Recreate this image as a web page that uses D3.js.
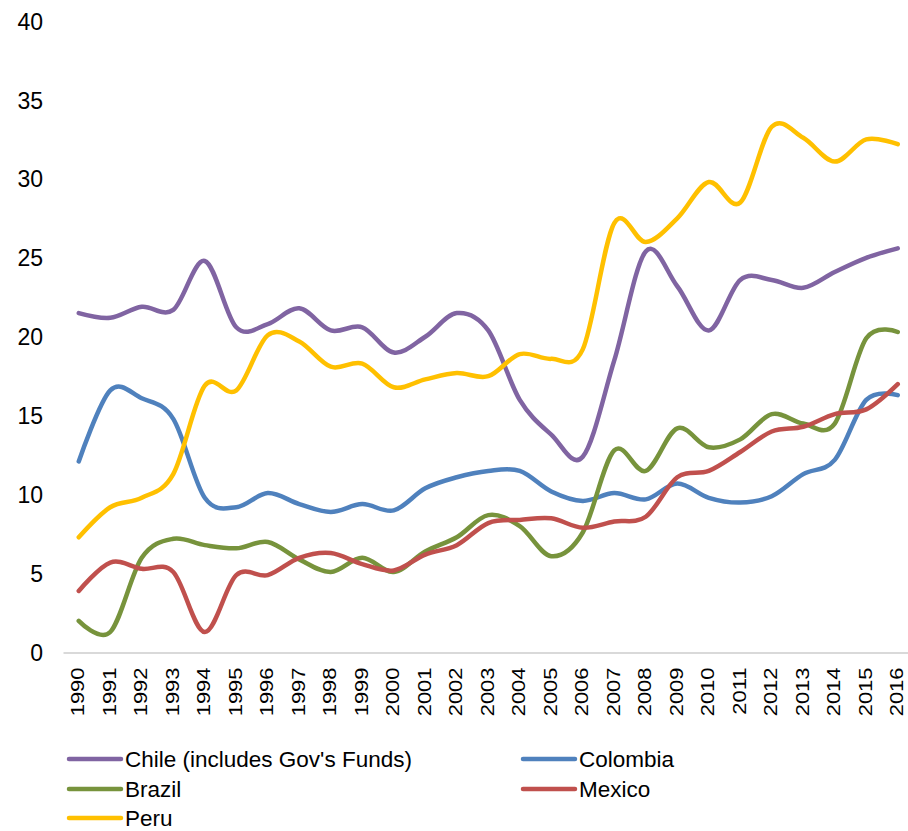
<!DOCTYPE html>
<html>
<head>
<meta charset="utf-8">
<script src="https://cdn.jsdelivr.net/npm/d3@7/dist/d3.min.js"></script>
<style>
  html, body { margin: 0; padding: 0; background: #fff; }
  svg { display: block; }
  text { font-family: Arial, "Liberation Sans", sans-serif; fill: #000; }
</style>
</head>
<body>
<svg id="chart" width="908" height="831"></svg>
<script>
const years = ["1990","1991","1992","1993","1994","1995","1996","1997","1998","1999","2000","2001","2002","2003","2004","2005","2006","2007","2008","2009","2010","2011","2012","2013","2014","2015","2016"];
const yTicks = [0, 5, 10, 15, 20, 25, 30, 35, 40];

const chile    = [21.5, 21.2, 21.9, 21.7, 24.8, 20.6, 20.8, 21.8, 20.4, 20.6, 19.0, 20.0, 21.5, 20.4, 16.0, 13.8, 12.4, 18.5, 25.4, 23.2, 20.4, 23.6, 23.6, 23.1, 24.1, 25.0, 25.6];
const colombia = [12.1, 16.6, 16.1, 14.8, 9.8, 9.2, 10.1, 9.4, 8.9, 9.4, 9.0, 10.4, 11.1, 11.5, 11.5, 10.2, 9.6, 10.1, 9.7, 10.7, 9.8, 9.5, 9.9, 11.3, 12.2, 16.0, 16.3];
const brazil   = [2.0, 1.3, 6.0, 7.2, 6.8, 6.6, 7.0, 5.9, 5.1, 6.0, 5.1, 6.4, 7.3, 8.7, 8.0, 6.1, 7.6, 12.8, 11.5, 14.2, 13.0, 13.5, 15.1, 14.5, 14.5, 19.9, 20.3];
const mexico   = [3.9, 5.7, 5.3, 5.1, 1.3, 4.9, 4.9, 6.0, 6.3, 5.6, 5.2, 6.2, 6.8, 8.2, 8.4, 8.5, 7.9, 8.3, 8.6, 11.1, 11.5, 12.7, 14.0, 14.3, 15.1, 15.4, 17.0];
const peru     = [7.3, 9.2, 9.8, 11.3, 16.9, 16.6, 20.1, 19.7, 18.1, 18.3, 16.8, 17.3, 17.7, 17.5, 18.9, 18.6, 19.2, 27.2, 26.0, 27.5, 29.8, 28.5, 33.3, 32.6, 31.1, 32.5, 32.2];

const seriesNames  = ["Chile (includes Gov's Funds)", "Colombia", "Brazil", "Mexico", "Peru"];
const seriesValues = [chile, colombia, brazil, mexico, peru];
const seriesColors = ["#8064A2", "#4F81BD", "#77933C", "#C0504D", "#FFC000"];

const svg = d3.select("#chart");

const x = d3.scaleBand().domain(years).range([63, 913.5]).padding(0);
const y = d3.scaleLinear().domain([0, 40]).range([652.5, 21]);
const cx = d => x(d) + x.bandwidth() / 2;

// Y axis labels
const yAxis = d3.axisLeft(y).tickValues(yTicks).tickSize(0).tickPadding(0);
const gy = svg.append("g").attr("transform", "translate(43,0)").call(yAxis);
gy.select(".domain").remove();
gy.selectAll("text").style("font-size", "23px").style("fill", "#000")
  .attr("font-family", "Arial, 'Liberation Sans', sans-serif").attr("dy", "0.35em");

// X axis
const xAxis = d3.axisBottom(x).tickSize(0).tickPadding(0);
const gx = svg.append("g").attr("transform", `translate(0,${y(0)})`).call(xAxis);
gx.select(".domain").attr("stroke", "#d9d9d9").attr("stroke-width", 2);
gx.selectAll("text")
  .style("font-size", "18px").style("fill", "#000")
  .attr("font-family", "Arial, 'Liberation Sans', sans-serif")
  .attr("text-anchor", "end")
  .attr("transform", "translate(-1,15) rotate(-90) scale(1.22,1)")
  .attr("x", 0).attr("y", 0).attr("dy", "0.35em");

// Lines
const line = d3.line()
  .x((d, i) => cx(years[i]))
  .y(d => y(d))
  .curve(d3.curveCardinal.tension(0));

seriesValues.forEach((vals, i) => {
  svg.append("path")
    .datum(vals)
    .attr("fill", "none")
    .attr("stroke", seriesColors[i])
    .attr("stroke-width", 4.5)
    .attr("stroke-linecap", "round")
    .attr("stroke-linejoin", "round")
    .attr("d", line);
});

// Legend
const legendPos = [
  {x: 67, y: 759}, {x: 521, y: 759},
  {x: 67, y: 789}, {x: 521, y: 789},
  {x: 67, y: 818}
];
seriesNames.forEach((name, i) => {
  const p = legendPos[i];
  const g = svg.append("g").attr("transform", `translate(${p.x},${p.y})`);
  g.append("line").attr("x1", 2).attr("x2", 54).attr("y1", 0).attr("y2", 0)
    .attr("stroke", seriesColors[i]).attr("stroke-width", 4.5).attr("stroke-linecap", "round");
  g.append("text").attr("x", 58).attr("y", 0).attr("dy", "0.35em")
    .style("font-size", "22.5px").text(name);
});
</script>
</body>
</html>
